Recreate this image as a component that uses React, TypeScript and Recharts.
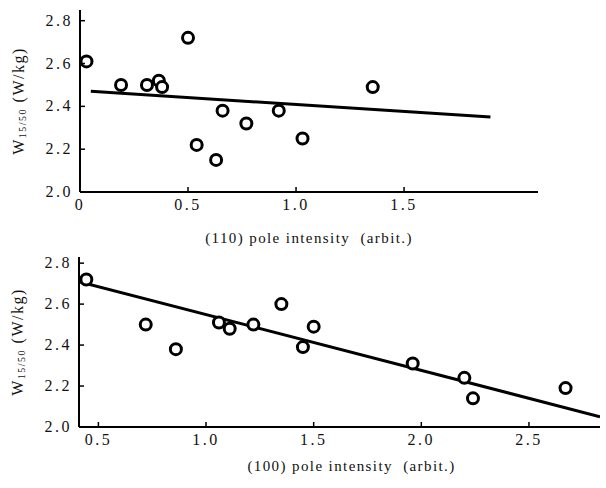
import React from "react";
import { ScatterChart, Scatter, XAxis, YAxis, Label } from "recharts";

// upper panel: (110) pole intensity vs W15/50
const topX = [0.03, 0.19, 0.31, 0.365, 0.38, 0.5, 0.54, 0.63, 0.66, 0.77, 0.92, 1.03, 1.355];
const topY = [2.61, 2.5, 2.5, 2.52, 2.49, 2.72, 2.22, 2.15, 2.38, 2.32, 2.38, 2.25, 2.49];
const topFitX = [0.05, 1.9];
const topFitY = [2.47, 2.35];
const topTicks = [0, 0.5, 1.0, 1.5];

// lower panel: (100) pole intensity vs W15/50
const botX = [0.444, 0.72, 0.86, 1.06, 1.11, 1.22, 1.35, 1.45, 1.5, 1.96, 2.2, 2.24, 2.67];
const botY = [2.72, 2.5, 2.38, 2.51, 2.48, 2.5, 2.6, 2.39, 2.49, 2.31, 2.24, 2.14, 2.19];
const botFitX = [0.41, 2.83];
const botFitY = [2.71, 2.05];
const botTicks = [0.5, 1.0, 1.5, 2.0, 2.5];

const yTicks = [2.0, 2.2, 2.4, 2.6, 2.8];

const FONT = "'Liberation Serif', 'DejaVu Serif', serif";

const toPoints = (xs: number[], ys: number[]) => xs.map((x, i) => ({ x, y: ys[i] }));

const fmtX = (v: number) => (v === 0 ? "0" : v.toFixed(1));

const XTick = (props: any) => {
  const { x, y, payload } = props;
  return (
    <g>
      <line x1={x} x2={x} y1={y} y2={y - 5} stroke="#000" strokeWidth={1.5} />
      <text x={x} y={y + 18} textAnchor="middle" fontFamily={FONT} fontSize={16} letterSpacing={2.5} fill="#111">
        {fmtX(payload.value)}
      </text>
    </g>
  );
};

const YTick = (props: any) => {
  const { x, y, payload } = props;
  return (
    <g>
      <line x1={x} x2={x + 5} y1={y} y2={y} stroke="#000" strokeWidth={1.5} />
      <text x={x - 7} y={y + 5} textAnchor="end" fontFamily={FONT} fontSize={16} letterSpacing={2.5} fill="#111">
        {payload.value.toFixed(1)}
      </text>
    </g>
  );
};

const YLabel = ({ viewBox }: any) => {
  const cx = viewBox.x - 12;
  const cy = viewBox.y + viewBox.height / 2;
  return (
    <text
      x={cx}
      y={cy}
      transform={`rotate(-90 ${cx} ${cy})`}
      textAnchor="middle"
      dominantBaseline="central"
      fontFamily={FONT}
      fontSize={16}
      letterSpacing={1.5}
      fill="#111"
    >
      W<tspan fontSize={10} dy={4}>15/50</tspan>
      <tspan dy={-4}>{"  (W/kg)"}</tspan>
    </text>
  );
};

const XLabel = ({ viewBox, text, dy, dx }: any) => (
  <text
    x={viewBox.x + viewBox.width / 2 + dx}
    y={viewBox.y + dy}
    textAnchor="middle"
    fontFamily={FONT}
    fontSize={15}
    letterSpacing={1.4}
    fill="#111"
    style={{ whiteSpace: "pre" }}
  >
    {text}
  </text>
);

const Ring = (props: any) => (
  <circle cx={props.cx} cy={props.cy} r={5.5} fill="#fff" stroke="#000" strokeWidth={3} />
);

const Nothing = () => <g />;

function Panel({
  points,
  fit,
  xDomain,
  yDomain,
  xTicks,
  height,
  margin,
  label,
  labelDy,
  labelDx,
}: any) {
  return (
    <ScatterChart width={606} height={height} margin={margin}>
      <XAxis
        type="number"
        dataKey="x"
        domain={xDomain}
        ticks={xTicks}
        allowDataOverflow
        height={30}
        tickSize={0}
        tickMargin={0}
        tick={<XTick />}
        axisLine={{ stroke: "#000", strokeWidth: 2 }}
        tickLine={false}
      >
        <Label content={<XLabel text={label} dy={labelDy} dx={labelDx} />} />
      </XAxis>
      <YAxis
        type="number"
        dataKey="y"
        domain={yDomain}
        ticks={yTicks}
        allowDataOverflow
        width={50}
        tickSize={0}
        tickMargin={0}
        tick={<YTick />}
        axisLine={{ stroke: "#000", strokeWidth: 2 }}
        tickLine={false}
      >
        <Label content={<YLabel />} />
      </YAxis>
      <Scatter
        data={fit}
        line={{ stroke: "#000", strokeWidth: 3 }}
        shape={<Nothing />}
        isAnimationActive={false}
      />
      <Scatter data={points} shape={<Ring />} isAnimationActive={false} />
    </ScatterChart>
  );
}

export default function App() {
  return (
    <div
      style={{
        position: "absolute",
        left: 0,
        top: 0,
        width: 606,
        height: 488,
        background: "#fff",
      }}
    >
      <div style={{ position: "absolute", left: 0, top: 0 }}>
        <Panel
          points={toPoints(topX, topY)}
          fit={toPoints(topFitX, topFitY)}
          xDomain={[0, 2.12]}
          yDomain={[2.0, 2.85]}
          xTicks={topTicks}
          height={252}
          margin={{ top: 10, right: 68, bottom: 30, left: 30 }}
          label="(110) pole intensity  (arbit.)"
          labelDy={51}
          labelDx={0}
        />
      </div>
      <div style={{ position: "absolute", left: 0, top: 244 }}>
        <Panel
          points={toPoints(botX, botY)}
          fit={toPoints(botFitX, botFitY)}
          xDomain={[0.41, 2.83]}
          yDomain={[2.0, 2.83]}
          xTicks={botTicks}
          height={244}
          margin={{ top: 13, right: 6, bottom: 31, left: 29 }}
          label="(100) pole intensity  (arbit.)"
          labelDy={44}
          labelDx={12}
        />
      </div>
    </div>
  );
}
